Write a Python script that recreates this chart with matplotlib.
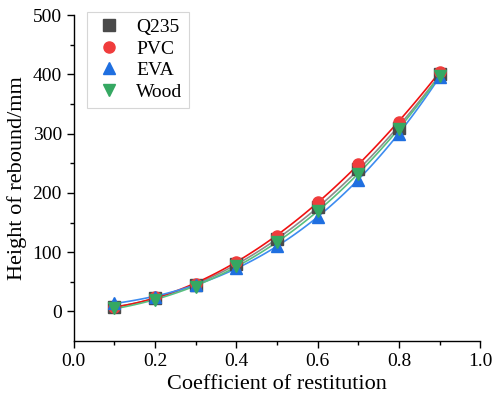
import numpy as np
import matplotlib.pyplot as plt

# Coefficient of restitution vs. rebound height for four materials
x = [0.1, 0.2, 0.3, 0.4, 0.5, 0.6, 0.7, 0.8, 0.9]
q235 = [8, 22, 45, 80, 122, 177, 240, 310, 400]
pvc = [7, 24, 47, 84, 128, 184, 249, 320, 404]
eva = [14, 25, 44, 74, 110, 160, 222, 300, 396]
wood = [5, 20, 42, 77, 117, 170, 232, 308, 398]

series = [
    ('Q235', q235, 's', '#4a4a4a', '#8c8c8c'),
    ('PVC', pvc, 'o', '#f03c3c', '#f01010'),
    ('EVA', eva, '^', '#1f6fe0', '#3d8cf0'),
    ('Wood', wood, 'v', '#35a862', '#58c080'),
]

plt.rcParams['font.family'] = ['Liberation Serif', 'DejaVu Serif']

fig = plt.figure(figsize=(4.92, 3.98), dpi=100)
ax = fig.add_axes([0.150, 0.143, 0.826, 0.819])

xs = np.linspace(0.1, 0.9, 100)
for name, y, m, c, lc in series:
    # cubic fit curve through the measured points
    coef = np.polyfit(x, y, 3)
    ax.plot(xs, np.polyval(coef, xs), color=lc, linewidth=1.2, zorder=2)
    ax.plot(x, y, linestyle='none', marker=m, markersize=8, color=c,
            label=name, zorder=3)

ax.set_xlim(0, 1.0)
ax.set_ylim(-50, 500)
ax.set_xticks([0, 0.2, 0.4, 0.6, 0.8, 1.0])
ax.set_xticks([0.1, 0.3, 0.5, 0.7, 0.9], minor=True)
ax.set_yticks([0, 100, 200, 300, 400, 500])
ax.set_yticks([50, 150, 250, 350, 450], minor=True)
ax.set_xticklabels(['0.0', '0.2', '0.4', '0.6', '0.8', '1.0'])

for s in ['top', 'right']:
    ax.spines[s].set_visible(False)
for s in ['left', 'bottom']:
    ax.spines[s].set_linewidth(1.0)
ax.tick_params(which='major', direction='out', length=5, width=1, labelsize=14)
ax.tick_params(which='minor', direction='out', length=3, width=1)

ax.set_xlabel('Coefficient of restitution', fontsize=16)
ax.set_ylabel('Height of rebound/mm', fontsize=16)

leg = ax.legend(loc='upper left', bbox_to_anchor=(0.008, 1.04), fontsize=14,
                frameon=True, fancybox=False, edgecolor='#cccccc',
                handletextpad=0.6, borderpad=0.35, labelspacing=0.2,
                handlelength=1.6)
leg.get_frame().set_linewidth(0.8)

fig.savefig('out.png', dpi=100)
